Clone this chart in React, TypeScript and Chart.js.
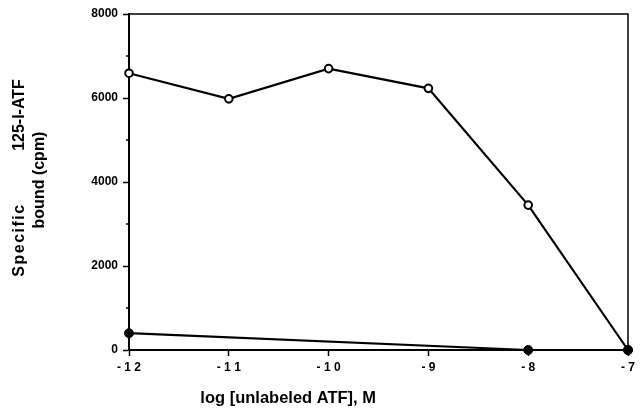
import React, { useEffect, useRef } from 'react';
import { Chart, registerables } from 'chart.js';

Chart.register(...registerables);

// ---- data ----
const xValues = [-12, -11, -10, -9, -8, -7];
const openValues = [6590, 5980, 6700, 6230, 3450, 0];
const filledX = [-12, -8, -7];
const filledValues = [400, 0, 0];
const yMin = 0;
const yMax = 8000;
const yStep = 1000;
const yMajor = 2000;
const xMin = -12;
const xMax = -7;
const xTitle = 'log [unlabeled ATF], M';
const yTitleA = 'Specific';
const yTitleB = '125-I-ATF';
const yTitle2 = 'bound (cpm)';

const FONT = '"Liberation Sans", Arial, Helvetica, sans-serif';
const NARROW = '"Liberation Sans Narrow", "Arial Narrow", "Liberation Sans", Arial, sans-serif';

const framePlugin = {
  id: 'frame',
  beforeDatasetsDraw(chart: any) {
    const { ctx, chartArea: a, scales } = chart;
    const y = scales.y;
    ctx.save();
    ctx.strokeStyle = '#000';
    ctx.lineWidth = 1.5;
    ctx.beginPath();
    ctx.moveTo(a.left, a.top);
    ctx.lineTo(a.right, a.top);
    ctx.lineTo(a.right, a.bottom);
    ctx.stroke();
    y.ticks.forEach((t: any) => {
      if (t.value % yMajor !== 0) {
        const py = y.getPixelForValue(t.value);
        ctx.beginPath();
        ctx.moveTo(a.left - 3, py);
        ctx.lineTo(a.left, py);
        ctx.stroke();
      }
    });
    ctx.restore();
  },
  afterDraw(chart: any) {
    const { ctx, chartArea: a } = chart;
    ctx.save();
    ctx.fillStyle = '#000';
    // x title
    ctx.font = `bold 16.5px ${FONT}`;
    ctx.textAlign = 'left';
    ctx.textBaseline = 'middle';
    ctx.fillText(xTitle, a.left + (a.right - a.left) * 0.143, chart.height - 12);
    // y title
    const cy = (a.top + a.bottom) / 2;
    const drawRot = (text: string, x: number, y: number, font: string, spacing: string) => {
      ctx.save();
      ctx.translate(x, y);
      ctx.rotate(-Math.PI / 2);
      ctx.font = font;
      try { (ctx as any).letterSpacing = spacing; } catch (e) {}
      ctx.textAlign = 'center';
      ctx.textBaseline = 'middle';
      ctx.fillText(text, 0, 0);
      ctx.restore();
    };
    drawRot(yTitleA, 20, cy + 58, `bold 16px ${FONT}`, '1.5px');
    drawRot(yTitleB, 20, cy - 67, `bold 16px ${NARROW}`, '0px');
    drawRot(yTitle2, 40, cy - 2, `bold 16px ${NARROW}`, '0px');
    ctx.restore();
  },
};

export default function App() {
  const ref = useRef<HTMLCanvasElement | null>(null);
  useEffect(() => {
    if (!ref.current) return;
    const chart = new Chart(ref.current, {
      type: 'line',
      data: {
        datasets: [
          {
            label: 'filled',
            data: filledX.map((x, i) => ({ x, y: filledValues[i] })),
            borderColor: '#000',
            borderWidth: 2.2,
            pointRadius: 4.5,
            pointBackgroundColor: '#000',
            pointBorderColor: '#000',
            pointBorderWidth: 1,
            clip: 12,
            order: 0,
          } as any,
          {
            label: 'open',
            data: xValues.map((x, i) => ({ x, y: openValues[i] })),
            borderColor: '#000',
            borderWidth: 2.2,
            pointRadius: 3.8,
            pointBackgroundColor: '#fff',
            pointBorderColor: '#000',
            pointBorderWidth: 2,
            clip: 12,
            order: 1,
          } as any,
        ],
      },
      options: {
        responsive: false,
        animation: false,
        events: [],
        layout: { padding: { top: 14, right: 15, left: 0, bottom: 0 } },
        plugins: { legend: { display: false }, tooltip: { enabled: false } },
        scales: {
          x: {
            type: 'linear',
            min: xMin,
            max: xMax,
            afterFit: (s: any) => { s.height = 60; },
            border: { display: true, color: '#000', width: 2 },
            grid: { drawOnChartArea: false, drawTicks: true, tickLength: 6, tickColor: '#000', tickWidth: 1.5 },
            ticks: {
              stepSize: 1,
              padding: 4,
              color: '#000',
              font: { family: FONT, size: 12, weight: 'bold' },
              maxRotation: 0,
              callback: (v: any) => String(v).split('').join(' '),
            },
          },
          y: {
            type: 'linear',
            min: yMin,
            max: yMax,
            afterFit: (s: any) => { s.width = 129; },
            border: { display: true, color: '#000', width: 2 },
            grid: {
              drawOnChartArea: false,
              drawTicks: true,
              tickLength: 6,
              tickWidth: 1.5,
              tickColor: (c: any) => (c.tick && c.tick.value % yMajor === 0 ? '#000' : 'rgba(0,0,0,0)'),
            },
            ticks: {
              stepSize: yStep,
              padding: 5,
              color: '#000',
              font: { family: FONT, size: 12, weight: 'bold' },
              callback: (v: any) => (v % yMajor === 0 ? String(v) : ''),
            },
          },
        },
      },
      plugins: [framePlugin],
    } as any);
    return () => chart.destroy();
  }, []);
  return (
    <div style={{ position: 'absolute', left: 0, top: 0, width: 643, height: 410, background: '#fff' }}>
      <canvas ref={ref} width={643} height={410} style={{ display: 'block' }} />
    </div>
  );
}
